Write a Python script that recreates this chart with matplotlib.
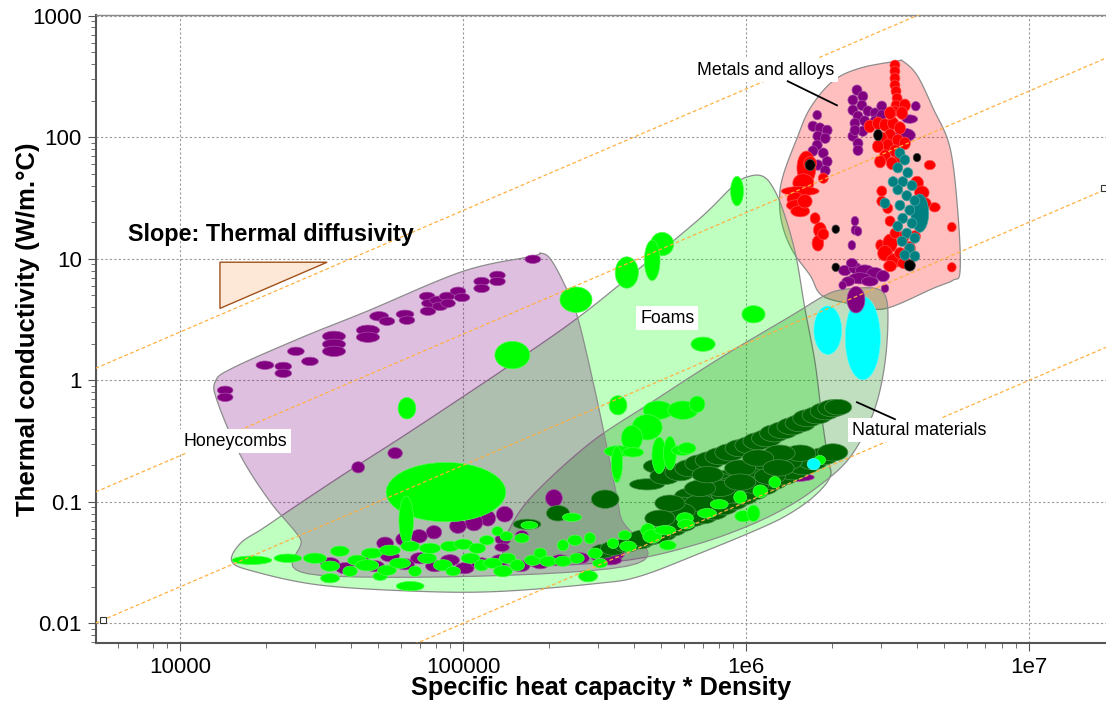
import numpy as np
import matplotlib
matplotlib.use("Agg")
import matplotlib.pyplot as plt
from matplotlib.patches import Polygon

plt.rcParams['font.family'] = ['Liberation Sans', 'DejaVu Sans']

# ---------------- data ----------------
x_limits = (5.02e3, 1.866e7)
y_limits = (6.84e-3, 1.013e3)
x_ticks = [1e4, 1e5, 1e6, 1e7]
x_tick_labels = ["10000", "100000", "1e6", "1e7"]
y_ticks = [0.01, 0.1, 1, 10, 100, 1000]
y_tick_labels = ["0.01", "0.1", "1", "10", "100", "1000"]

# lines of constant thermal diffusivity (k / (rho*cp))
diffusivity_lines = [2.5e-4, 2.4e-5, 2.0e-6, 1.0e-7]
marker_x = [5.33e3, 1.84e7]
marker_y = [0.0106, 38.0]

# slope triangle
tri_x = [1.38e4, 3.30e4, 1.38e4]
tri_y = [9.36, 9.36, 3.9]

# envelope outlines (x = rho*cp, y = k)
foams_env_x = [1.52e4, 1.63e4, 1.96e4, 2.65e4, 3.98e4, 5.97e4, 9.73e4, 1.59e5, 2.58e5, 4.21e5,
               6.86e5, 9.12e5, 1.03e6, 1.14e6, 1.23e6, 1.34e6, 1.49e6, 1.61e6, 1.75e6, 1.85e6,
               1.94e6, 1.98e6, 1.75e6, 1.43e6, 1.12e6, 6.86e5, 4.21e5, 2.99e5, 1.35e5, 7.03e4,
               3.12e4, 1.81e4]
foams_env_y = [0.0324, 0.0455, 0.0605, 0.0973, 0.182, 0.333, 0.705, 1.52, 3.36, 8.4,
               21.5, 41.0, 47.8, 47.8, 40.0, 26.0, 11.1, 3.9, 1.38, 0.487,
               0.228, 0.162, 0.113, 0.0804, 0.0605, 0.0377, 0.0244, 0.0213, 0.0183, 0.0183,
               0.0206, 0.0268]

natural_env_x = [1.38e5, 1.46e5, 1.76e5, 2.80e5, 4.57e5, 8.07e5, 1.43e6, 1.90e6, 2.23e6, 2.85e6,
                 3.12e6, 3.16e6, 3.07e6, 2.87e6, 2.56e6, 2.23e6, 1.82e6, 1.43e6, 1.03e6, 6.86e5,
                 4.21e5, 2.58e5, 1.59e5, 1.40e5]
natural_env_y = [0.0392, 0.0605, 0.113, 0.303, 0.647, 1.52, 3.36, 5.0, 5.6, 5.7,
                 4.73, 2.68, 1.26, 0.622, 0.333, 0.207, 0.137, 0.0935, 0.0641, 0.0455,
                 0.0343, 0.0306, 0.0295, 0.0306]

metals_env_x = [3.41e6, 3.57e6, 4.01e6, 4.57e6, 5.25e6, 5.60e6, 5.69e6, 5.37e6, 4.57e6, 3.12e6,
                2.52e6, 1.87e6, 1.68e6, 1.46e6, 1.34e6, 1.31e6, 1.35e6, 1.51e6, 1.68e6, 2.02e6,
                2.52e6]
metals_env_y = [423, 423, 324, 173, 81, 22.8, 7.9, 6.65, 5.7, 3.9,
                4.14, 4.9, 7.3, 11.5, 18.9, 31, 48.7, 98, 173, 289,
                370]

honey_env_x = [1.33e4, 1.53e4, 2.65e4, 4.57e4, 1.0e5, 1.76e5, 1.87e5, 2.02e5, 2.25e5, 2.52e5,
               2.87e5, 3.22e5, 3.58e5, 3.78e5, 3.12e4, 2.65e4, 2.07e4, 1.63e4, 1.35e4]
honey_env_y = [0.98, 1.26, 2.22, 3.70, 7.9, 10.5, 11.1, 10.1, 6.5, 3.43,
               0.98, 0.276, 0.0774, 0.0295, 0.0248, 0.0501, 0.101, 0.241, 0.672]

# material bubbles: (rho*cp centre, k centre, rho*cp max/min ratio, k max/min ratio)
honeycomb_bubbles = [
    (1.44e4, 0.827, 1.11, 1.10), (1.44e4, 0.724, 1.11, 1.10), (1.99e4, 1.33, 1.13, 1.10),
    (2.31e4, 1.30, 1.12, 1.10), (2.31e4, 1.14, 1.12, 1.10), (2.56e4, 1.73, 1.12, 1.10),
    (2.87e4, 1.43, 1.12, 1.10), (3.49e4, 2.30, 1.18, 1.14), (3.49e4, 1.98, 1.18, 1.14),
    (3.49e4, 1.73, 1.18, 1.14), (4.60e4, 2.58, 1.18, 1.14), (4.60e4, 2.26, 1.18, 1.14),
    (5.04e4, 3.36, 1.14, 1.12), (5.37e4, 3.06, 1.11, 1.10), (6.22e4, 3.49, 1.13, 1.10),
    (6.32e4, 3.12, 1.11, 1.10), (7.45e4, 4.9, 1.11, 1.10), (7.62e4, 4.3, 1.12, 1.10),
    (7.50e4, 3.70, 1.11, 1.10), (8.14e4, 4.55, 1.12, 1.10), (8.27e4, 4.06, 1.11, 1.10),
    (8.76e4, 4.9, 1.11, 1.10), (8.83e4, 4.3, 1.10, 1.10), (9.57e4, 5.4, 1.11, 1.10),
    (9.89e4, 4.8, 1.11, 1.10), (1.16e5, 6.5, 1.11, 1.10), (1.16e5, 5.7, 1.11, 1.10),
    (1.32e5, 7.3, 1.11, 1.10), (1.32e5, 6.5, 1.11, 1.10), (1.76e5, 9.9, 1.11, 1.10),
]

purple_bubbles = [
    (4.25e4, 0.192, 1.085, 1.16), (5.74e4, 0.251, 1.10, 1.16), (2.09e5, 0.107, 1.12, 1.30),
    (1.40e5, 0.0789, 1.12, 1.26), (1.22e5, 0.0731, 1.11, 1.26), (1.09e5, 0.0678, 1.13, 1.30),
    (9.57e4, 0.0629, 1.12, 1.23), (7.87e4, 0.0561, 1.11, 1.21), (6.97e4, 0.0520, 1.12, 1.21),
    (6.12e4, 0.0491, 1.10, 1.19), (5.29e4, 0.0455, 1.12, 1.19), (1.38e5, 0.0491, 1.11, 1.16),
    (1.61e5, 0.0530, 1.085, 1.12), (1.37e5, 0.0422, 1.10, 1.10),
    (3.38e4, 0.0312, 1.14, 1.16), (3.82e4, 0.0284, 1.14, 1.16), (4.32e4, 0.0324, 1.14, 1.16),
    (4.87e4, 0.0295, 1.14, 1.16), (5.50e4, 0.0356, 1.14, 1.16), (6.22e4, 0.0306, 1.14, 1.16),
    (7.03e4, 0.0343, 1.14, 1.16), (7.94e4, 0.0295, 1.14, 1.16), (8.97e4, 0.0330, 1.14, 1.16),
    (1.01e5, 0.0284, 1.14, 1.16), (1.15e5, 0.0312, 1.14, 1.16), (1.35e5, 0.0330, 1.14, 1.16),
    (1.59e5, 0.0295, 1.14, 1.16), (1.87e5, 0.0312, 1.14, 1.16), (2.20e5, 0.0330, 1.14, 1.16),
    (2.58e5, 0.0343, 1.14, 1.16), (3.04e5, 0.0356, 1.14, 1.16), (3.43e5, 0.0370, 1.14, 1.16),
    (3.30e5, 0.0330, 1.18, 1.12), (1.49e6, 0.159, 1.33, 1.10),
]

foam_bubbles = [
    (8.68e4, 0.120, 2.59, 2.89), (6.28e4, 0.0704, 1.10, 2.35),
    (1.32e5, 0.0572, 1.07, 1.12), (1.42e5, 0.0520, 1.085, 1.12), (1.21e5, 0.0482, 1.10, 1.12),
    (1.79e4, 0.0330, 1.35, 1.10), (2.40e4, 0.0343, 1.225, 1.10), (6.49e4, 0.0202, 1.225, 1.12),
    (2.76e5, 0.0244, 1.14, 1.16), (3.38e4, 0.0235, 1.14, 1.12), (5.08e4, 0.0244, 1.10, 1.10),
    (2.99e4, 0.0343, 1.18, 1.14), (3.38e4, 0.0295, 1.14, 1.14), (3.66e4, 0.0392, 1.14, 1.14),
    (3.98e4, 0.0268, 1.10, 1.14), (4.21e4, 0.0330, 1.14, 1.14), (4.57e4, 0.0300, 1.18, 1.16),
    (4.75e4, 0.0377, 1.16, 1.14), (5.37e4, 0.0273, 1.14, 1.14), (5.50e4, 0.0399, 1.16, 1.14),
    (5.97e4, 0.0312, 1.16, 1.14), (6.49e4, 0.0430, 1.14, 1.14), (6.75e4, 0.0268, 1.085, 1.14),
    (7.45e4, 0.0343, 1.14, 1.14), (7.62e4, 0.0414, 1.16, 1.14), (8.47e4, 0.0300, 1.14, 1.16),
    (8.97e4, 0.0430, 1.14, 1.14), (9.20e4, 0.0268, 1.10, 1.12), (1.00e5, 0.0447, 1.14, 1.14),
    (1.06e5, 0.0343, 1.14, 1.14), (1.12e5, 0.0414, 1.12, 1.14), (1.16e5, 0.0300, 1.10, 1.16),
    (1.27e5, 0.0312, 1.14, 1.14), (1.38e5, 0.0268, 1.14, 1.16), (1.43e5, 0.0343, 1.12, 1.14),
    (1.55e5, 0.0300, 1.10, 1.16), (1.61e5, 0.0501, 1.10, 1.12), (1.76e5, 0.0330, 1.12, 1.14),
    (1.87e5, 0.0377, 1.085, 1.14), (1.99e5, 0.0324, 1.12, 1.14), (2.25e5, 0.0438, 1.07, 1.16),
    (2.25e5, 0.0324, 1.12, 1.14), (2.48e5, 0.0482, 1.10, 1.14), (2.52e5, 0.0343, 1.10, 1.14),
    (2.80e5, 0.0501, 1.07, 1.16), (2.92e5, 0.0377, 1.10, 1.14), (3.38e5, 0.0455, 1.07, 1.14),
    (3.72e5, 0.0530, 1.085, 1.12), (3.82e5, 0.0430, 1.12, 1.14), (3.04e5, 0.0312, 1.10, 1.12),
    (3.49e5, 0.189, 1.06, 1.61),
    (9.27e5, 36.0, 1.085, 1.64), (5.04e5, 13.2, 1.18, 1.46), (4.65e5, 9.7, 1.11, 2.02),
    (3.78e5, 7.7, 1.18, 1.70), (2.50e5, 4.6, 1.27, 1.52), (1.49e5, 1.61, 1.30, 1.58),
    (1.06e6, 3.49, 1.18, 1.30), (7.03e5, 1.98, 1.19, 1.23), (6.32e4, 0.588, 1.13, 1.41),
    (3.52e5, 0.622, 1.13, 1.35), (4.88e5, 0.567, 1.25, 1.33), (5.97e5, 0.567, 1.25, 1.33),
    (6.70e5, 0.634, 1.11, 1.28), (4.46e5, 0.410, 1.25, 1.52), (3.94e5, 0.333, 1.16, 1.52),
    (3.52e5, 0.260, 1.225, 1.16), (3.49e5, 0.207, 1.07, 1.77), (3.98e5, 0.255, 1.16, 1.12),
    (4.92e5, 0.241, 1.10, 1.87), (5.37e5, 0.251, 1.085, 1.77), (5.93e5, 0.265, 1.16, 1.14),
    (6.17e5, 0.276, 1.13, 1.16),
]

wood_bubbles = [
    (3.17e5, 0.105, 1.225, 1.33), (2.16e5, 0.0804, 1.18, 1.26), (1.68e5, 0.0653, 1.225, 1.14),
    (4.83e5, 0.196, 1.22, 1.22), (4.46e5, 0.139, 1.30, 1.16), (5.16e5, 0.162, 1.25, 1.28),
    (5.83e5, 0.175, 1.25, 1.30), (6.32e5, 0.189, 1.25, 1.30), (6.86e5, 0.207, 1.25, 1.30),
    (7.45e5, 0.220, 1.25, 1.30), (8.07e5, 0.237, 1.25, 1.30), (8.75e5, 0.255, 1.25, 1.30),
    (9.51e5, 0.276, 1.25, 1.30), (1.03e6, 0.292, 1.25, 1.30), (1.10e6, 0.315, 1.25, 1.30),
    (1.18e6, 0.333, 1.25, 1.30), (1.26e6, 0.366, 1.25, 1.30), (1.35e6, 0.388, 1.25, 1.30),
    (1.45e6, 0.418, 1.25, 1.30), (1.55e6, 0.443, 1.25, 1.30), (1.65e6, 0.487, 1.25, 1.30),
    (1.78e6, 0.515, 1.25, 1.30), (1.90e6, 0.556, 1.25, 1.30), (2.02e6, 0.588, 1.25, 1.30),
    (2.11e6, 0.600, 1.22, 1.26),
    (3.12e5, 0.0392, 1.20, 1.22), (3.38e5, 0.0414, 1.20, 1.22), (3.78e5, 0.0438, 1.20, 1.22),
    (4.21e5, 0.0473, 1.22, 1.26), (4.57e5, 0.0510, 1.22, 1.26), (5.08e5, 0.0550, 1.22, 1.26),
    (5.50e5, 0.0605, 1.22, 1.26), (5.97e5, 0.0665, 1.22, 1.28), (6.49e5, 0.0731, 1.22, 1.28),
    (7.03e5, 0.0774, 1.25, 1.30), (7.64e5, 0.0835, 1.25, 1.30), (8.28e5, 0.0918, 1.25, 1.30),
    (8.97e5, 0.101, 1.25, 1.30), (9.75e5, 0.111, 1.25, 1.30), (1.06e6, 0.122, 1.25, 1.30),
    (1.15e6, 0.134, 1.25, 1.30), (1.24e6, 0.148, 1.25, 1.30), (1.35e6, 0.162, 1.25, 1.30),
    (1.46e6, 0.178, 1.25, 1.30), (1.59e6, 0.196, 1.25, 1.30), (1.72e6, 0.216, 1.25, 1.30),
    (1.87e6, 0.237, 1.25, 1.30), (2.02e6, 0.255, 1.25, 1.30),
    (1.39e6, 0.216, 1.26, 1.32), (1.18e6, 0.196, 1.26, 1.30), (1.01e6, 0.165, 1.26, 1.28),
    (8.55e5, 0.156, 1.26, 1.28), (7.89e5, 0.148, 1.26, 1.28), (8.97e5, 0.137, 1.26, 1.28),
    (1.06e6, 0.137, 1.25, 1.28), (7.45e5, 0.122, 1.26, 1.28), (6.32e5, 0.111, 1.26, 1.28),
    (8.55e5, 0.113, 1.26, 1.28), (5.97e5, 0.0935, 1.26, 1.28), (6.86e5, 0.0973, 1.26, 1.28),
    (5.83e5, 0.0835, 1.25, 1.28), (4.32e5, 0.0501, 1.25, 1.28), (4.83e5, 0.0530, 1.22, 1.28),
    (9.51e5, 0.189, 1.26, 1.28), (1.21e6, 0.162, 1.26, 1.28), (8.07e5, 0.129, 1.26, 1.28),
    (6.86e5, 0.129, 1.26, 1.28), (5.37e5, 0.0973, 1.25, 1.28), (4.95e5, 0.0731, 1.25, 1.28),
    (1.55e6, 0.251, 1.26, 1.28), (1.31e6, 0.251, 1.26, 1.28), (1.10e6, 0.229, 1.26, 1.28),
    (9.51e5, 0.145, 1.26, 1.28), (1.30e6, 0.190, 1.26, 1.28), (7.30e5, 0.167, 1.26, 1.28),
]

foam_bubbles_top = [
    (1.26e6, 0.145, 1.075, 1.16), (9.51e5, 0.109, 1.085, 1.19), (1.12e6, 0.122, 1.10, 1.19),
    (8.02e5, 0.0953, 1.13, 1.12), (7.26e5, 0.0804, 1.14, 1.12), (6.07e5, 0.0731, 1.12, 1.16),
    (6.12e5, 0.0653, 1.12, 1.12), (9.75e5, 0.0760, 1.12, 1.16), (1.06e6, 0.0804, 1.085, 1.28),
    (4.49e5, 0.0583, 1.10, 1.21), (4.65e5, 0.0520, 1.14, 1.21), (5.16e5, 0.0583, 1.16, 1.12),
    (5.28e5, 0.0438, 1.12, 1.12), (1.82e6, 0.220, 1.07, 1.12),
    (2.42e5, 0.0745, 1.14, 1.10), (1.71e5, 0.0641, 1.12, 1.08),
]

cyan_bubbles = [
    (1.94e6, 2.58, 1.225, 2.35), (2.58e6, 2.22, 1.30, 4.55), (1.73e6, 0.204, 1.085, 1.16),
]

metal_purple_bubbles = [
    (2.44e6, 4.6, 1.13, 1.55),
    (2.46e6, 244, 1.06, 1.14), (2.58e6, 217, 1.06, 1.14), (2.38e6, 202, 1.06, 1.14),
    (2.56e6, 183, 1.06, 1.14), (2.38e6, 167, 1.06, 1.14), (2.48e6, 149, 1.06, 1.14),
    (2.69e6, 164, 1.06, 1.14), (2.85e6, 158, 1.06, 1.14), (2.42e6, 130, 1.06, 1.14),
    (2.62e6, 136, 1.06, 1.14), (2.85e6, 136, 1.06, 1.14), (3.01e6, 180, 1.06, 1.14),
    (3.01e6, 152, 1.06, 1.14), (2.38e6, 102, 1.06, 1.14), (2.48e6, 89, 1.06, 1.14),
    (2.48e6, 78, 1.06, 1.14), (2.58e6, 112, 1.06, 1.14), (2.42e6, 114, 1.06, 1.14),
    (1.72e6, 123, 1.06, 1.14), (1.82e6, 119, 1.06, 1.14), (1.93e6, 114, 1.06, 1.14),
    (1.79e6, 102, 1.06, 1.14), (1.90e6, 98, 1.06, 1.14), (1.78e6, 86, 1.06, 1.14),
    (1.72e6, 77, 1.06, 1.14), (1.87e6, 74, 1.06, 1.14), (1.93e6, 63, 1.06, 1.14),
    (1.79e6, 59, 1.06, 1.14), (1.90e6, 53, 1.06, 1.14), (1.78e6, 152, 1.05, 1.12),
    (3.78e6, 141, 1.11, 1.10), (3.97e6, 180, 1.05, 1.12), (3.63e6, 104, 1.16, 1.21),
    (2.42e6, 20.4, 1.04, 1.12), (2.42e6, 17.2, 1.04, 1.12), (2.48e6, 16.8, 1.04, 1.12),
    (2.36e6, 12.9, 1.04, 1.12),
    (2.23e6, 8.0, 1.085, 1.14), (2.42e6, 8.4, 1.085, 1.16), (2.62e6, 8.0, 1.14, 1.16),
    (2.85e6, 7.6, 1.12, 1.16), (2.52e6, 6.9, 1.18, 1.16), (2.29e6, 6.5, 1.085, 1.12),
    (2.73e6, 6.5, 1.12, 1.12), (2.36e6, 9.2, 1.07, 1.12), (3.04e6, 7.2, 1.085, 1.16),
    (2.19e6, 6.05, 1.04, 1.10), (3.09e6, 5.7, 1.04, 1.10),
]

red_bubbles = [
    (3.35e6, 391, 1.06, 1.14), (3.35e6, 349, 1.06, 1.14), (3.35e6, 306, 1.06, 1.14),
    (3.35e6, 268, 1.06, 1.14), (3.38e6, 239, 1.06, 1.14), (3.41e6, 209, 1.06, 1.14),
    (3.38e6, 183, 1.06, 1.14), (3.35e6, 164, 1.06, 1.14),
    (2.73e6, 123, 1.07, 1.19), (2.92e6, 130, 1.07, 1.19), (3.09e6, 126, 1.07, 1.19),
    (3.30e6, 130, 1.07, 1.19), (3.49e6, 119, 1.07, 1.19), (3.22e6, 104, 1.07, 1.19),
    (3.01e6, 98, 1.07, 1.19), (3.43e6, 94, 1.07, 1.19), (3.63e6, 89, 1.07, 1.19),
    (3.16e6, 86, 1.07, 1.19), (2.92e6, 84, 1.07, 1.19), (3.35e6, 77, 1.07, 1.19),
    (3.09e6, 70, 1.07, 1.19), (3.49e6, 67, 1.07, 1.19), (3.27e6, 61, 1.07, 1.19),
    (2.97e6, 63, 1.07, 1.19), (3.63e6, 183, 1.07, 1.19), (3.55e6, 158, 1.07, 1.19),
    (3.22e6, 158, 1.07, 1.19),
    (1.63e6, 56, 1.14, 1.77), (1.59e6, 42, 1.16, 1.33), (1.55e6, 36, 1.33, 1.12),
    (1.49e6, 31, 1.12, 1.21), (1.51e6, 27.5, 1.16, 1.16), (1.55e6, 24.6, 1.14, 1.16),
    (1.61e6, 29.7, 1.10, 1.21), (1.68e6, 61, 1.085, 1.21), (1.87e6, 46, 1.06, 1.14),
    (1.75e6, 21.5, 1.06, 1.16), (1.82e6, 17.2, 1.085, 1.26), (1.79e6, 13.4, 1.075, 1.26),
    (1.87e6, 15.9, 1.07, 1.16),
    (4.45e6, 59, 1.07, 1.12), (4.63e6, 26.5, 1.07, 1.12), (5.32e6, 18.2, 1.05, 1.12),
    (5.32e6, 8.5, 1.05, 1.12), (2.97e6, 12.9, 1.05, 1.16),
    (3.22e6, 13.4, 1.10, 1.33), (3.09e6, 11.1, 1.10, 1.26), (3.35e6, 9.7, 1.12, 1.21),
    (3.63e6, 9.2, 1.10, 1.16), (3.22e6, 8.7, 1.085, 1.16), (3.49e6, 11.1, 1.07, 1.16),
    (3.78e6, 12.2, 1.07, 1.21), (3.57e6, 14.8, 1.07, 1.21),
    (4.01e6, 42, 1.085, 1.21), (4.17e6, 35, 1.10, 1.21), (4.27e6, 28.6, 1.085, 1.16),
    (3.94e6, 15.3, 1.07, 1.16), (3.01e6, 36, 1.06, 1.14), (3.01e6, 29.7, 1.06, 1.14),
    (3.16e6, 26, 1.06, 1.14), (3.22e6, 20.4, 1.06, 1.14), (3.35e6, 16.2, 1.06, 1.14),
]

teal_bubbles = [
    (4.10e6, 23.7, 1.13, 1.94),
    (3.49e6, 74, 1.06, 1.14), (3.63e6, 65, 1.06, 1.14), (3.43e6, 56, 1.06, 1.14),
    (3.72e6, 51, 1.06, 1.14), (3.57e6, 43, 1.06, 1.14), (3.85e6, 40, 1.06, 1.14),
    (3.43e6, 37, 1.06, 1.14), (3.69e6, 33, 1.06, 1.14), (3.94e6, 30, 1.06, 1.14),
    (3.49e6, 27.5, 1.06, 1.14), (3.78e6, 25.1, 1.06, 1.14), (3.57e6, 21.5, 1.06, 1.14),
    (3.85e6, 19.6, 1.06, 1.14), (3.43e6, 18.5, 1.06, 1.14), (3.69e6, 16.2, 1.06, 1.14),
    (3.94e6, 14.8, 1.06, 1.14), (3.55e6, 13.9, 1.06, 1.14), (3.78e6, 12.2, 1.06, 1.14),
    (3.63e6, 10.7, 1.06, 1.14), (3.94e6, 10.5, 1.06, 1.14), (3.30e6, 43, 1.06, 1.14),
    (3.09e6, 28.6, 1.06, 1.14),
]

black_bubbles = [
    (1.68e6, 59, 1.06, 1.16), (2.07e6, 17.5, 1.04, 1.10), (2.07e6, 8.5, 1.04, 1.10),
    (4.01e6, 68, 1.04, 1.10), (2.92e6, 104, 1.05, 1.16), (3.78e6, 8.8, 1.07, 1.16),
]

# labels
labels = [
    ("Metals and alloys", 6.70e5, 356, "left"),
    ("Foams", 5.25e5, 3.24, "center"),
    ("Honeycombs", 1.03e4, 0.315, "left"),
    ("Natural materials", 2.36e6, 0.388, "left"),
]
leader_lines = [
    ((1.40e6, 2.09e6), (289, 183)),
    ((2.46e6, 3.35e6), (0.659, 0.478)),
]
slope_text = ("Slope: Thermal diffusivity", 6.53e3, 15.9)

# ---------------- drawing helpers ----------------
BUBBLE_PAD_X = 0.005   # extra half-width (decades) for the rim of each bubble
BUBBLE_PAD_Y = 0.014   # extra half-height (decades)


def smooth_closed(xs, ys, n=12):
    lx = np.log10(np.asarray(xs, float))
    ly = np.log10(np.asarray(ys, float))
    m = len(lx)
    out_x, out_y = [], []
    for i in range(m):
        p0 = np.array([lx[(i - 1) % m], ly[(i - 1) % m]])
        p1 = np.array([lx[i], ly[i]])
        p2 = np.array([lx[(i + 1) % m], ly[(i + 1) % m]])
        p3 = np.array([lx[(i + 2) % m], ly[(i + 2) % m]])
        for t in np.linspace(0, 1, n, endpoint=False):
            t2, t3 = t * t, t * t * t
            pt = 0.5 * ((2 * p1) + (-p0 + p2) * t + (2 * p0 - 5 * p1 + 4 * p2 - p3) * t2
                        + (-p0 + 3 * p1 - 3 * p2 + p3) * t3)
            out_x.append(pt[0])
            out_y.append(pt[1])
    return np.column_stack([10 ** np.array(out_x), 10 ** np.array(out_y)])


def bubble_path(xc, yc, fx, fy, n=40):
    t = np.linspace(0, 2 * np.pi, n, endpoint=False)
    hx = 0.5 * np.log10(fx) + BUBBLE_PAD_X
    hy = 0.5 * np.log10(fy) + BUBBLE_PAD_Y
    lx = np.log10(xc) + hx * np.cos(t)
    ly = np.log10(yc) + hy * np.sin(t)
    return np.column_stack([10 ** lx, 10 ** ly])


def lighten(c, f):
    rgb = np.array(matplotlib.colors.to_rgb(c))
    return tuple(rgb + (1 - rgb) * f)


# ---------------- figure ----------------
fig = plt.figure(figsize=(11.06, 7.05), dpi=100)
ax = fig.add_axes([0.0865, 0.0875, 0.9135, 0.8912])
ax.set_xscale('log')
ax.set_yscale('log')
ax.set_xlim(*x_limits)
ax.set_ylim(*y_limits)

# envelopes
envelopes = [
    (metals_env_x, metals_env_y, '#ff0000'),
    (foams_env_x, foams_env_y, '#00ff00'),
    (natural_env_x, natural_env_y, '#008000'),
    (honey_env_x, honey_env_y, '#800080'),
]
for i, (ex, ey, col) in enumerate(envelopes):
    pts = smooth_closed(ex, ey)
    ax.add_patch(Polygon(pts, closed=True, facecolor=matplotlib.colors.to_rgba(col, 0.25),
                         edgecolor='#8c8c8c', linewidth=0.9, zorder=2 + i * 0.1))

# bubbles
groups = [
    (honeycomb_bubbles, '#800080'),
    (purple_bubbles, '#800080'),
    (wood_bubbles, '#006400'),
    (foam_bubbles, '#00ff00'),
    (foam_bubbles_top, '#00ff00'),
    (cyan_bubbles, '#00ffff'),
    (metal_purple_bubbles, '#800080'),
    (red_bubbles, '#ff0000'),
    (teal_bubbles, '#008080'),
    (black_bubbles, '#000000'),
]
z = 3
for data, col in groups:
    edge = lighten(col, 0.3)
    for (xc, yc, fx, fy) in data:
        z += 0.001
        ax.add_patch(Polygon(bubble_path(xc, yc, fx, fy), closed=True, facecolor=col,
                             edgecolor=edge, linewidth=0.5, zorder=z))

# thermal diffusivity guide lines
xx = np.array(x_limits)
for a in diffusivity_lines:
    ax.plot(xx, a * xx, color='#ffb040', lw=0.9, dashes=(3, 2), zorder=8)
ax.plot(marker_x, marker_y, linestyle='none', marker='s', markersize=4,
        markerfacecolor='white', markeredgecolor='#333333', markeredgewidth=0.8, zorder=9,
        clip_on=False)

# slope triangle
ax.add_patch(Polygon(np.column_stack([tri_x, tri_y]), closed=True, facecolor='#fde8d8',
                     edgecolor='#a0501a', linewidth=1.0, zorder=9))
ax.text(slope_text[1], slope_text[2], slope_text[0], fontsize=16.8, fontweight='bold',
        ha='left', va='center', zorder=10)

# labels
for txt, lx_, ly_, ha in labels:
    ax.text(lx_, ly_, txt, fontsize=12.8, ha=ha, va='center', zorder=11,
            bbox=dict(facecolor='white', edgecolor='none', pad=2.5))
for (lxs, lys) in leader_lines:
    ax.plot(lxs, lys, color='black', lw=1.3, zorder=11)

# axes styling
ax.set_axisbelow(True)
ax.grid(True, which='major', color='#999999', linestyle=(0, (2, 2)), linewidth=0.8)
ax.set_xticks(x_ticks)
ax.set_xticklabels(x_tick_labels)
ax.set_yticks(y_ticks)
ax.set_yticklabels(y_tick_labels)
ax.tick_params(axis='both', which='major', labelsize=16, length=6, direction='out',
               color='#555555', pad=4)
ax.tick_params(axis='both', which='minor', length=3.5, direction='out', color='#555555')
for s in ['left', 'bottom']:
    ax.spines[s].set_color('#555555')
    ax.spines[s].set_linewidth(1.5)
ax.spines['top'].set_color('#888888')
ax.spines['top'].set_linewidth(1.0)
ax.spines['right'].set_visible(False)

ax.set_xlabel("Specific heat capacity * Density", fontsize=18.3, fontweight='bold')
ax.set_ylabel("Thermal conductivity (W/m.°C)", fontsize=18.5, fontweight='bold')
ax.xaxis.set_label_coords(0.5, -0.052)
ax.yaxis.set_label_coords(-0.055, 0.5)

fig.savefig("out.png", dpi=100)
